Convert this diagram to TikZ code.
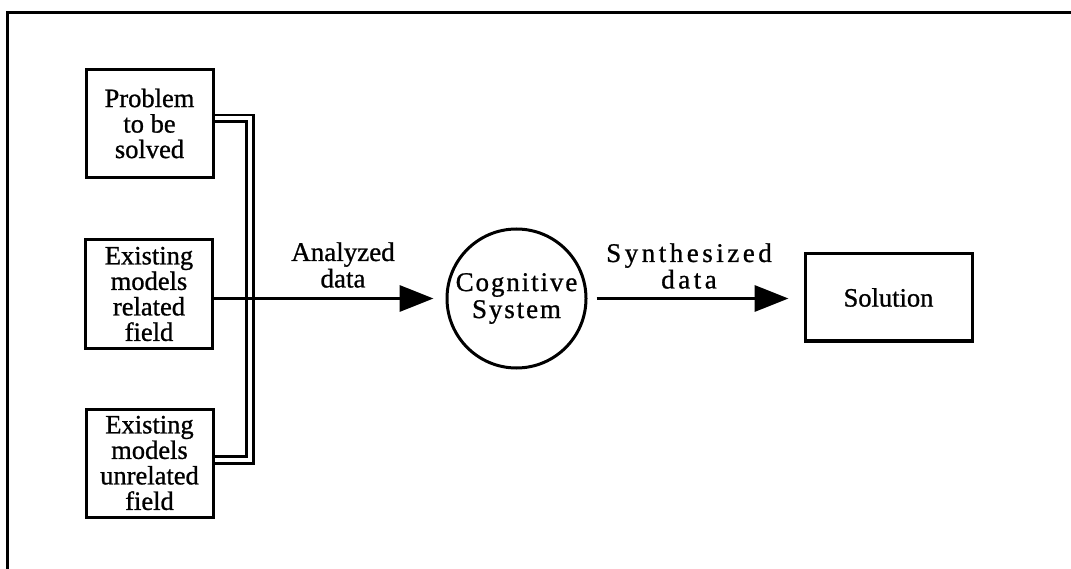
\documentclass[tikz,border=0pt]{standalone}
\usepackage{fontspec}
\setmainfont{Liberation Serif}[FakeBold=0.9]
\usetikzlibrary{arrows.meta,calc,backgrounds}

\begin{document}
\begin{tikzpicture}[x=1pt,y=-1pt,
  txt/.style={font=\fontsize{26.5}{25.5}\selectfont, align=center},
  box/.style={txt, draw, line width=3pt, minimum width=127pt,
    minimum height=108pt, inner sep=0pt},
  lab/.style={font=\fontsize{27}{26.5}\selectfont, align=center, inner sep=0pt},
  flow/.style={line width=3.5pt, -{Triangle[length=34pt,width=26pt]}},
  bus/.style={line width=2.8pt, double, double distance=4pt}]
\useasboundingbox (0,0) rectangle (1071,569);

% open frame: top and left edges only
\draw[line width=2.2pt] (1071,12.5) -- (7.5,12.5) -- (7.5,569);

% input boxes
\node[box] (prob) at (149.5,123.5) {Problem\\to be\\solved};
\node[box, minimum height=109pt] (rel) at (149,294) {Existing\\models\\related\\field};
\node[box] (unrel) at (149.5,463) {Existing\\models\\unrelated\\field};

% processing and output
\node[circle, draw, line width=3pt, minimum size=139pt, inner sep=0pt, align=center,
  font=\fontsize{27}{27}\selectfont\addfontfeature{LetterSpace=7}] (cog) at (516.5,298.5)
  {Cognitive\\System};
\node[box, minimum width=167pt, minimum height=87pt] (sol) at (888.5,297.5) {Solution};

% double bus joining the top and bottom inputs
\begin{scope}[on background layer]
  \coordinate (busbot) at (250,460);
  \draw[bus] ($(prob.east)+(0,-5)$) -| (busbot) -- (unrel.east |- busbot);
\end{scope}

% data flow arrows
\draw[flow, shorten >=12pt] (rel.east |- cog.west) -- (cog.west);
\draw[flow, shorten <=9pt, shorten >=15pt] (cog.east) -- (sol.west |- cog.east);

% arrow labels
\node[lab] (ana) at (343,265) {Analyzed\\data};
\node[lab, font=\fontsize{27}{26.5}\selectfont\addfontfeature{LetterSpace=13}] (syn) at (689,266) {Synthesized\\data};
\end{tikzpicture}
\end{document}
